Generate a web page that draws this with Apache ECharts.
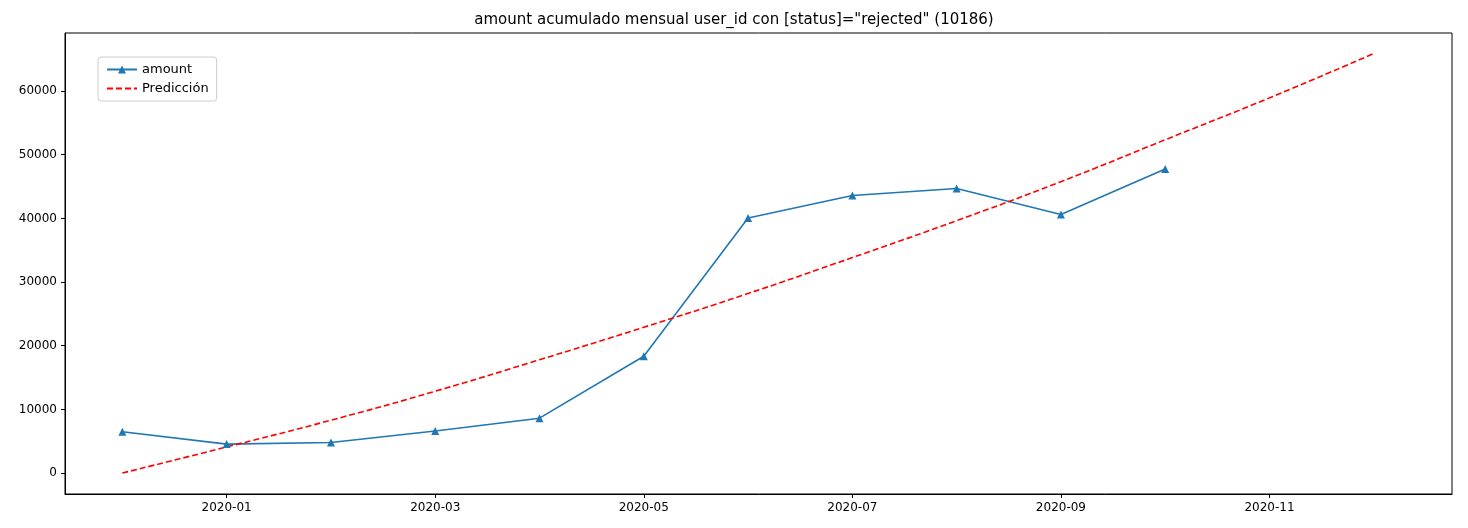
<!DOCTYPE html>
<html>
<head>
<meta charset="utf-8">
<script src="https://cdn.jsdelivr.net/npm/echarts@6/dist/echarts.min.js"></script>
<style>html,body{margin:0;padding:0;background:#fff}#c{width:1468px;height:528px}</style>
</head>
<body>
<div id="c"></div>
<script>
// months indexed from 2019-12 (0) to 2020-12 (12)
const months = ['2019-12','2020-01','2020-02','2020-03','2020-04','2020-05','2020-06','2020-07','2020-08','2020-09','2020-10','2020-11','2020-12'];
const amount = [6500, 4550, 4800, 6600, 8620, 18340, 40050, 43600, 44700, 40600, 47750];
const prediccion = [0, 4100, 8300, 12850, 17800, 22900, 28200, 33850, 39650, 45770, 52350, 58930, 65900];
const tickIdx = [1, 3, 5, 7, 9, 11];
const yTicks = [0, 10000, 20000, 30000, 40000, 50000, 60000];

const chart = echarts.init(document.getElementById('c'));
const font = 'DejaVu Sans';
chart.setOption({
  animation: false,
  textStyle: {fontFamily: font},
  title: {
    text: 'amount acumulado mensual user_id con [status]="rejected" (10186)',
    left: 'center', top: 8,
    textStyle: {fontFamily: font, fontSize: 15, fontWeight: 'normal', color: '#000'}
  },
  legend: {
    orient: 'vertical', left: 98, top: 57, itemGap: 6,
    itemWidth: 30, itemHeight: 10,
    padding: [6, 8], borderColor: '#ccc', borderWidth: 1, borderRadius: 3,
    textStyle: {fontSize: 13, color: '#000'},
    data: ['amount', {name: 'Predicción', itemStyle: {color: 'transparent', borderWidth: 0}}]
  },
  grid: {left: 65, right: 16, top: 33, bottom: 34, show: true, borderColor: '#000', borderWidth: 1},
  xAxis: {
    type: 'value', min: -0.55, max: 12.75,
    splitLine: {show: false},
    axisLine: {onZero: false, lineStyle: {color: '#000'}},
    axisTick: {customValues: tickIdx, lineStyle: {color: '#000'}, length: 4},
    axisLabel: {customValues: tickIdx, formatter: v => months[Math.round(v)], color: '#000', fontSize: 12}
  },
  yAxis: {
    type: 'value', min: -3290, max: 69120,
    splitLine: {show: false},
    axisLine: {show: true, onZero: false, lineStyle: {color: '#000'}},
    axisTick: {show: true, customValues: yTicks, length: 4, lineStyle: {color: '#000'}},
    axisLabel: {customValues: yTicks, formatter: v => String(v), color: '#000', fontSize: 12}
  },
  series: [
    {
      name: 'amount', type: 'line',
      data: amount.map((v, i) => [i, v]),
      symbol: 'triangle', symbolSize: 8,
      lineStyle: {color: '#1f77b4', width: 1.6},
      itemStyle: {color: '#1f77b4'}
    },
    {
      name: 'Predicción', type: 'line',
      data: prediccion.map((v, i) => [i, v]),
      symbol: 'none', smooth: true,
      lineStyle: {color: '#ff0000', width: 1.6, type: [6, 3]},
      itemStyle: {color: '#ff0000'}
    }
  ]
});
</script>
</body>
</html>
